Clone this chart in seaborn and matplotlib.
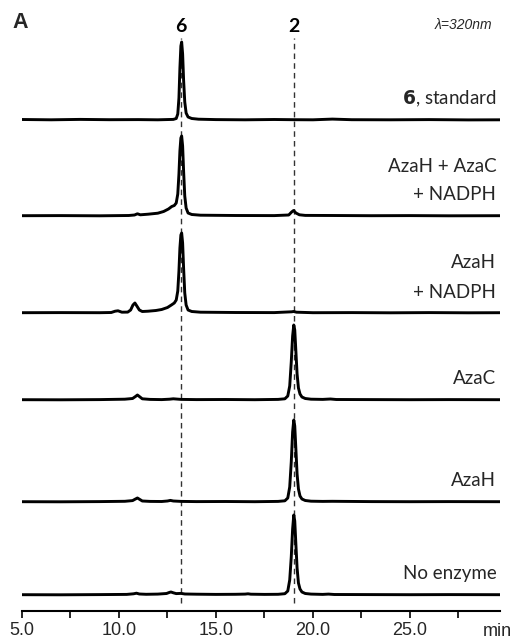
"""
HPLC traces (lambda = 320 nm): standard of 6 and enzyme assays vs. substrate 2.
Stacked chromatograms with the two retention times marked.

Output: out.png
"""

import matplotlib
matplotlib.use("Agg")
import matplotlib.pyplot as plt
import numpy as np
import pandas as pd
import seaborn as sns

# ── data (signal in arbitrary absorbance units) ──
samples = ["6, standard", "AzaH + AzaC\n+ NADPH", "AzaH\n+ NADPH", "AzaC", "AzaH", "No enzyme"]

t_standard = [5.0, 6.5, 8.0, 9.5, 11.0, 12.0, 12.8, 12.95, 13.03, 13.09, 13.14, 13.19, 13.23, 13.28,
              13.33, 13.39, 13.46, 13.56, 13.75, 14.1, 15.0, 16.5, 18.0, 19.0, 20.0, 21.0, 22.0,
              24.0, 26.0, 28.0, 29.7]
a_standard = [0.5, 0.2, 0.6, 0.3, 0.4, 0.2, 0.6, 1.5, 6, 22, 52, 74, 78, 66,
              40, 18, 7, 3, 1.5, 0.8, 0.4, 0.2, 0.5, 0.3, 0.2, 0.9, 0.3,
              0.2, 0.4, 0.1, 0.2]

t_hc_nadph = [5.0, 7.0, 9.0, 10.5, 10.8, 10.95, 11.1, 11.5, 12.0, 12.3, 12.55, 12.72, 12.85, 12.95,
              13.03, 13.09, 13.14, 13.19, 13.23, 13.28, 13.33, 13.39, 13.46, 13.56, 13.75, 14.2,
              16.0, 18.0, 18.75, 18.9, 19.0, 19.12, 19.3, 19.6, 21.0, 23.0, 25.0, 27.0, 29.7]
a_hc_nadph = [0.3, 0.4, 0.2, 0.5, 1.0, 2.2, 1.2, 1.8, 2.8, 4.5, 7.0, 9.5, 10.5, 13,
              22, 42, 65, 78, 80, 70, 45, 20, 8, 3, 1.5, 0.8,
              0.5, 0.4, 1.0, 4, 5.5, 3, 1.2, 0.6, 0.5, 0.3, 0.4, 0.2, 0.3]

t_h_nadph = [5.0, 7.0, 9.0, 9.6, 9.8, 9.95, 10.15, 10.45, 10.6, 10.72, 10.82, 10.92, 11.05, 11.2,
             11.5, 11.9, 12.2, 12.5, 12.7, 12.85, 12.95, 13.03, 13.09, 13.14, 13.19, 13.23, 13.28,
             13.33, 13.39, 13.46, 13.56, 13.75, 14.2, 16.0, 18.0, 18.9, 19.0, 19.15, 20.0, 22.0,
             24.0, 26.0, 28.0, 29.7]
a_h_nadph = [0.3, 0.4, 0.3, 0.5, 1.8, 2.2, 0.8, 0.9, 3, 8, 10, 7, 3, 1.5,
             1.8, 2.5, 3.5, 5.5, 8, 10, 13, 22, 42, 65, 78, 80, 70,
             45, 20, 8, 3, 1.5, 0.8, 0.5, 0.4, 1.2, 1.5, 0.8, 0.3, 0.4,
             0.2, 0.4, 0.2, 0.3]

t_azac = [5.0, 7.0, 9.0, 10.3, 10.7, 10.85, 10.95, 11.05, 11.2, 11.6, 12.2, 12.6, 12.8, 13.2,
          14.0, 15.5, 17.0, 18.2, 18.55, 18.7, 18.8, 18.88, 18.95, 19.01, 19.06, 19.12, 19.18,
          19.25, 19.33, 19.43, 19.6, 19.9, 20.5, 20.9, 21.2, 23.0, 25.0, 27.0, 29.7]
a_azac = [0.3, 0.2, 0.4, 0.8, 1.5, 3.5, 5, 3.5, 1.2, 0.6, 0.4, 0.8, 1.2, 0.6,
          0.4, 0.5, 0.3, 0.6, 1.2, 4, 14, 38, 64, 75, 70, 48, 26,
          12, 6, 3, 1.5, 0.8, 0.6, 1.0, 0.5, 0.4, 0.3, 0.4, 0.3]

t_azah = [5.0, 7.0, 9.0, 10.3, 10.7, 10.85, 10.95, 11.05, 11.2, 11.6, 12.2, 12.5, 12.65, 12.8,
          13.2, 14.0, 15.5, 17.0, 18.2, 18.55, 18.7, 18.8, 18.88, 18.95, 19.01, 19.06, 19.12,
          19.18, 19.25, 19.33, 19.43, 19.6, 19.9, 20.5, 21.0, 23.0, 25.0, 27.0, 29.7]
a_azah = [0.3, 0.2, 0.4, 0.7, 1.4, 3, 4, 2.8, 1.0, 0.6, 0.5, 1.0, 1.6, 1.0,
          0.6, 0.4, 0.5, 0.3, 0.6, 1.2, 4, 15, 40, 70, 82, 76, 52,
          28, 13, 6, 3, 1.5, 0.8, 0.6, 0.7, 0.4, 0.3, 0.4, 0.3]

t_no_enzyme = [5.0, 7.0, 9.0, 10.4, 10.75, 10.9, 11.05, 11.4, 12.0, 12.45, 12.6, 12.68, 12.8, 12.95,
               13.2, 13.4, 14.0, 15.0, 16.0, 16.5, 16.65, 16.8, 17.5, 18.2, 18.55, 18.7, 18.8,
               18.88, 18.95, 19.01, 19.06, 19.12, 19.18, 19.25, 19.33, 19.43, 19.6, 19.9, 20.5,
               20.8, 21.1, 23.0, 25.0, 27.0, 29.7]
a_no_enzyme = [0.3, 0.2, 0.4, 0.6, 1.2, 1.8, 1.0, 0.7, 0.9, 1.5, 2.6, 3, 2.2, 1.4,
               1.6, 1.0, 0.8, 0.6, 0.7, 0.9, 1.2, 0.8, 0.6, 0.7, 1.3, 4, 15,
               38, 66, 80, 74, 50, 27, 12, 6, 3, 1.5, 0.9, 0.6,
               0.9, 0.5, 0.4, 0.3, 0.4, 0.3]

times = [t_standard, t_hc_nadph, t_h_nadph, t_azac, t_azah, t_no_enzyme]
signals = [a_standard, a_hc_nadph, a_h_nadph, a_azac, a_azah, a_no_enzyme]

marker_times = [13.2, 19.0]
marker_labels = ["6", "2"]

x_ticks_major = [5.0, 10.0, 15.0, 20.0, 25.0]
x_ticks_minor = [7.5, 12.5, 17.5, 22.5, 27.5]

# ── layout (vertical stacking of traces, axes units ~ pixels) ──
TRACE_OFFSETS = [491, 395, 298, 211, 109, 16]
LABEL_LIFT = 21
LINE_STEP = 29

LABEL_FONT = ["Lato", "DejaVu Sans"]
AXIS_FONT = ["Liberation Sans", "DejaVu Sans"]


def build_frame() -> pd.DataFrame:
    parts = []
    for name, t, a, off in zip(samples, times, signals, TRACE_OFFSETS):
        parts.append(pd.DataFrame({"time": t, "y": np.asarray(a) + off, "sample": name}))
    return pd.concat(parts, ignore_index=True)


def main() -> None:
    sns.set_theme(style="white")
    plt.rcParams["font.family"] = AXIS_FONT

    fig = plt.figure(figsize=(5.14, 6.42), dpi=100)
    ax = fig.add_axes([22 / 514, 31 / 642, 478 / 514, 611 / 642])

    df = build_frame()
    sns.lineplot(data=df, x="time", y="y", units="sample", estimator=None, sort=False,
                 color="black", linewidth=2.1, ax=ax, legend=False)

    ax.vlines(marker_times, 8, 573, colors="#333333", linewidth=1.0, linestyles=(0, (4, 3)), zorder=0)
    for t, lab in zip(marker_times, marker_labels):
        ax.text(t, 584, lab, ha="center", va="center", fontsize=14, fontweight="bold",
                family=LABEL_FONT, color="black")

    x_right = 29.45
    for name, off in zip(samples, TRACE_OFFSETS):
        lines = name.split("\n")[::-1]
        for i, line in enumerate(lines):
            y = off + LABEL_LIFT + LINE_STEP * i
            if line.startswith("6,"):
                ax.text(x_right, y, r"$\bf{6}$" + line[1:], ha="right", va="center",
                        fontsize=13.5, family=LABEL_FONT)
            else:
                ax.text(x_right, y, line, ha="right", va="center", fontsize=13.5, family=LABEL_FONT)

    ax.set_xlim(5.0, 29.64)
    ax.set_ylim(0, 611)
    ax.set_xticks(x_ticks_major)
    ax.set_xticklabels([f"{v:.1f}" for v in x_ticks_major], fontsize=13)
    ax.set_xticks(x_ticks_minor, minor=True)
    ax.tick_params(axis="x", which="both", direction="out", length=5, width=1.2, pad=3,
                   bottom=True, color="black")
    ax.set_yticks([])
    ax.set_xlabel("")
    ax.set_ylabel("")
    for side in ("top", "left", "right"):
        ax.spines[side].set_visible(False)
    ax.spines["bottom"].set_linewidth(1.5)
    ax.spines["bottom"].set_color("black")

    fig.text(497 / 514, 1 - 631 / 642, "min", ha="center", va="center", fontsize=13, family=AXIS_FONT)
    fig.text(12 / 514, 1 - 22 / 642, "A", ha="left", va="center", fontsize=15.5, fontweight="bold",
             family=AXIS_FONT)
    fig.text(492 / 514, 1 - 25 / 642, "λ=320nm", ha="right", va="center", fontsize=10,
             style="italic", family=AXIS_FONT)

    fig.savefig("out.png", dpi=100, facecolor="white")
    plt.close(fig)


if __name__ == "__main__":
    main()
